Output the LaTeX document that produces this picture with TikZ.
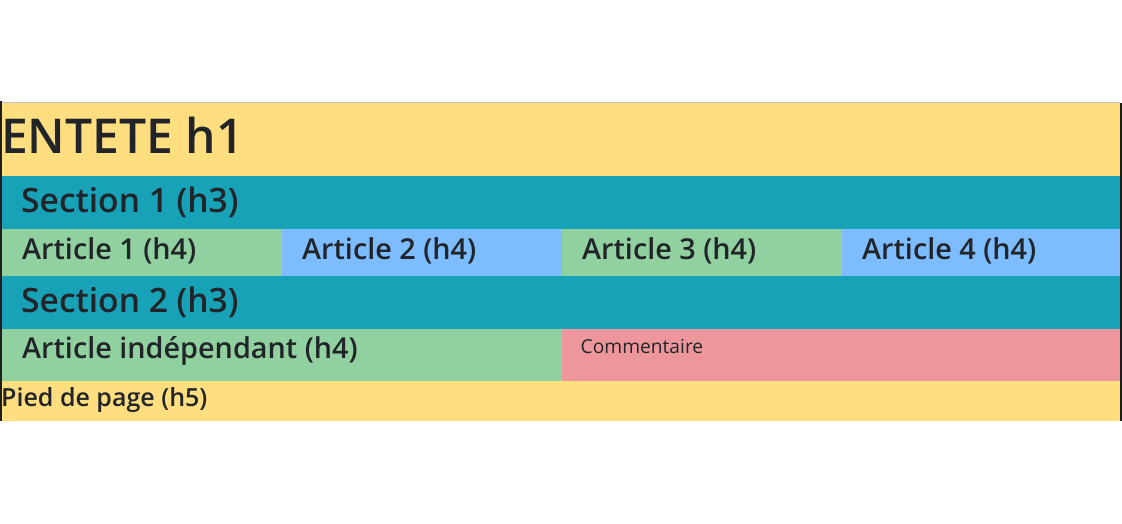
\documentclass[tikz,border=0pt]{standalone}
\usepackage{fontspec}
\setmainfont{Open Sans}
\IfFontExistsTF{Open Sans Semibold}
  {\newfontfamily\semibold{Open Sans Semibold}}
  {\IfFontExistsTF{Open Sans SemiBold}
     {\newfontfamily\semibold{Open Sans SemiBold}}
     {\newcommand\semibold{\bfseries}}}
\definecolor{hyellow}{RGB}{255,222,128}
\definecolor{hteal}{RGB}{23,162,184}
\definecolor{hgreen}{RGB}{145,209,159}
\definecolor{hblue}{RGB}{125,188,255}
\definecolor{hpink}{RGB}{237,151,157}
\definecolor{htext}{RGB}{33,37,41}
\definecolor{hborder}{RGB}{30,30,30}
\definecolor{hgrey}{RGB}{190,190,190}
\tikzset{
  txt/.style={inner sep=0pt, anchor=base west, text=htext},
  hone/.style={txt, font=\semibold\fontsize{48}{48}\selectfont},
  hthree/.style={txt, font=\semibold\fontsize{33.6}{33.6}\selectfont},
  hfour/.style={txt, font=\semibold\fontsize{28.8}{28.8}\selectfont},
  hfive/.style={txt, font=\semibold\fontsize{25}{25}\selectfont},
  body/.style={txt, font=\fontsize{19.2}{19.2}\selectfont}
}
\begin{document}
\begin{tikzpicture}[x=1pt,y=1pt]
\useasboundingbox (0,0) rectangle (1122,523);
% bands
\fill[hyellow] (2,347) rectangle (1120,420);
\fill[hteal] (2,294) rectangle (1120,347);
\fill[hgreen] (2,247) rectangle (282,294);
\fill[hblue] (282,247) rectangle (562,294);
\fill[hgreen] (562,247) rectangle (842,294);
\fill[hblue] (842,247) rectangle (1120,294);
\fill[hteal] (2,194) rectangle (1120,247);
\fill[hgreen] (2,142) rectangle (562,194);
\fill[hpink] (562,142) rectangle (1120,194);
\fill[hyellow] (2,102) rectangle (1120,142);
% borders
\fill[hgrey] (2,420) rectangle (1120,421);
\fill[hborder] (0,102) rectangle (2,422);
\fill[hborder] (1120,102) rectangle (1122,420);
% texts
\node[hone] (h1) at (1,369) {ENTETE h1};
\node[hthree] (s1) at (21,310.5) {Section 1 (h3)};
\node[hfour] (a1) at (22,263.5) {Article 1 (h4)};
\node[hfour] (a2) at (302,263.5) {Article 2 (h4)};
\node[hfour] (a3) at (582,263.5) {Article 3 (h4)};
\node[hfour] (a4) at (862,263.5) {Article 4 (h4)};
\node[hthree] (s2) at (21,211) {Section 2 (h3)};
\node[hfour] (ai) at (22,164.5) {Article indépendant (h4)};
\node[body] (cm) at (580.5,169.5) {Commentaire};
\node[hfive] (ft) at (1,117) {Pied de page (h5)};
\end{tikzpicture}
\end{document}
